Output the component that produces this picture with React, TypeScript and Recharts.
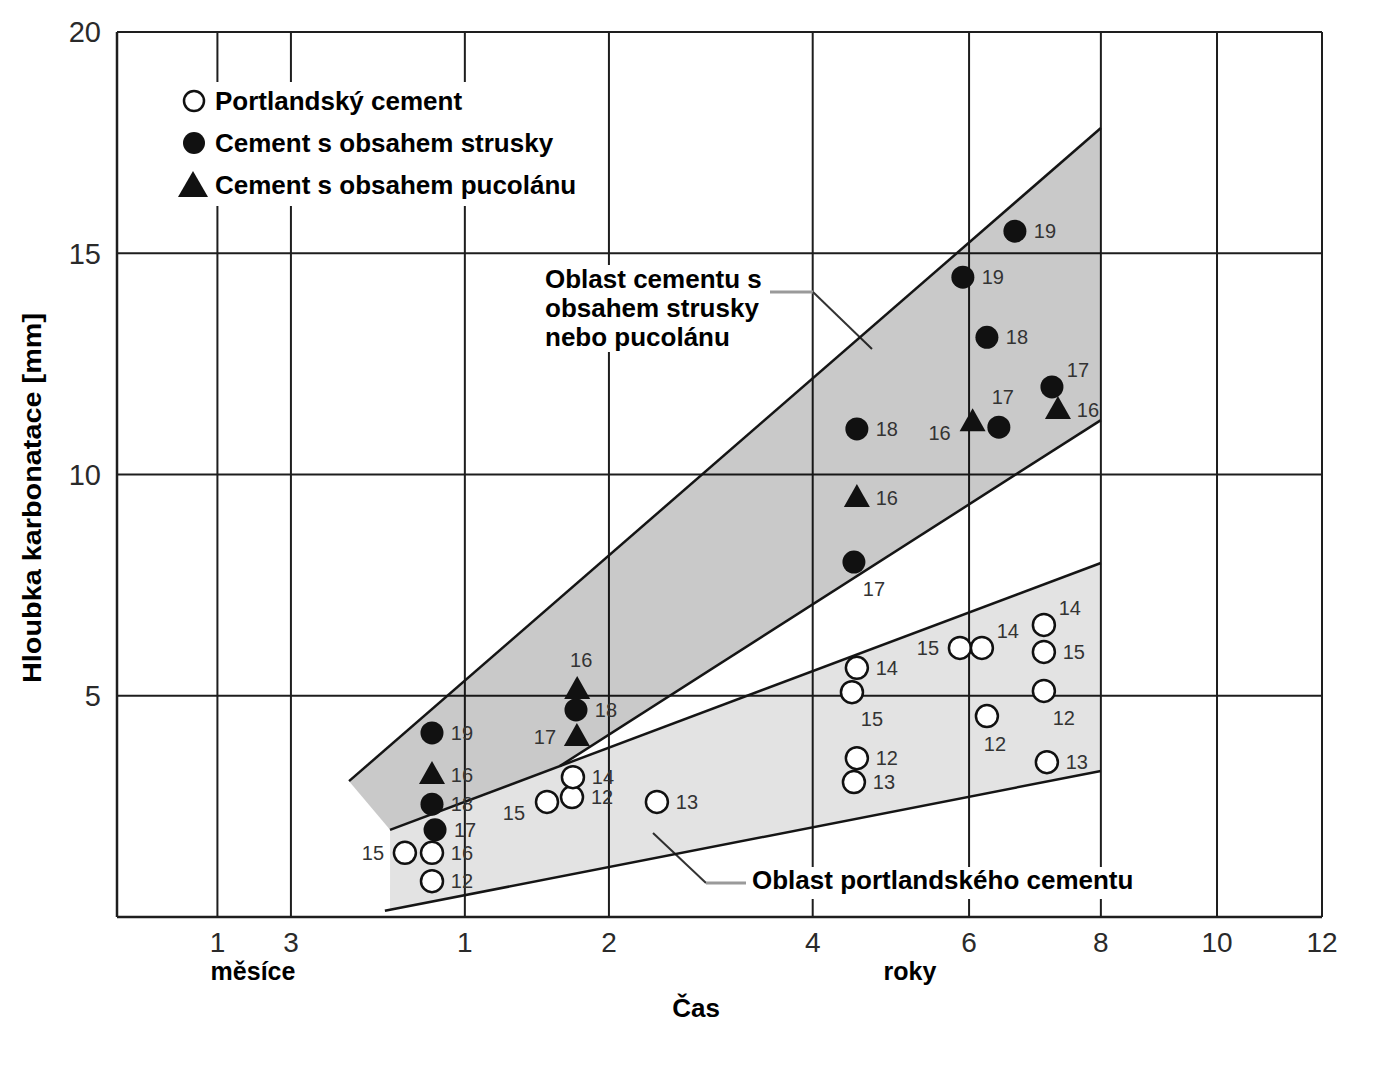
import React from "react";
import { ComposedChart, Scatter, XAxis, YAxis, CartesianGrid, Customized } from "recharts";

const FONT = "'Liberation Sans', Arial, Helvetica, sans-serif";

// time axis: 1 and 3 months, then years
const xTicks = [1 / 12, 3 / 12, 1, 2, 4, 6, 8, 10, 12];
const xTickLabels = ["1", "3", "1", "2", "4", "6", "8", "10", "12"];
const yTicks = [0, 5, 10, 15, 20];

// Portlandský cement
const portlandTime = [0.685, 0.82, 0.82, 1.528, 1.711, 1.718, 2.409, 4.524, 4.464, 4.524, 4.488, 5.872, 6.182, 6.254, 7.1, 7.1, 7.1, 7.146];
const portlandDepth = [1.45, 1.45, 0.81, 2.6, 2.71, 3.16, 2.6, 5.63, 5.08, 3.59, 3.05, 6.08, 6.08, 4.54, 6.6, 5.99, 5.11, 3.5];
const portlandTag = [15, 16, 12, 15, 12, 14, 13, 14, 15, 12, 13, 15, 14, 12, 14, 15, 12, 13];

// Cement s obsahem strusky
const slagTime = [0.82, 0.82, 0.836, 1.741, 4.524, 4.488, 5.913, 6.663, 6.254, 6.427, 7.224];
const slagDepth = [4.16, 2.55, 1.97, 4.68, 11.03, 8.02, 14.46, 15.5, 13.1, 11.07, 11.98];
const slagTag = [19, 18, 17, 18, 18, 17, 19, 19, 18, 17, 17];

// Cement s obsahem pucolánu
const pozzTime = [0.82, 1.75, 1.748, 4.524, 6.05, 7.317];
const pozzDepth = [3.21, 5.13, 4.07, 9.47, 11.18, 11.46];
const pozzTag = [16, 16, 17, 16, 16, 16];

// shaded regions (polygon corners) and their edges
const slagBandTime = [0.445, 8, 8, 1.62, 0.616];
const slagBandDepth = [3.07, 17.83, 11.23, 3.41, 1.97];
const portlandBandTime = [0.616, 8, 8, 0.616];
const portlandBandDepth = [1.97, 8.0, 3.3, 0.18];

const edgeSlagUpperT = [0.445, 8];
const edgeSlagUpperD = [3.07, 17.83];
const edgeSlagLowerT = [1.62, 8];
const edgeSlagLowerD = [3.41, 11.23];
const edgePortUpperT = [0.616, 8];
const edgePortUpperD = [1.97, 8.0];
const edgePortLowerT = [0.593, 8];
const edgePortLowerD = [0.14, 3.3];

// where each number label sits around its marker
const portlandSide = ["l", "r", "r", "dl", "r", "r", "r", "r", "dr", "r", "r", "l", "ur", "d", "ur", "r", "dr", "r"];
const slagSide = ["r", "r", "r", "r", "r", "dr", "r", "r", "r", "u", "ur"];
const pozzSide = ["r", "u", "l", "r", "dl", "r"];

const sideOffset: Record<string, [number, number]> = {
  r: [30, 0],
  l: [-32, 0],
  u: [4, -30],
  ur: [26, -17],
  d: [8, 28],
  dr: [20, 27],
  dl: [-33, 11],
};

const zip = (ts: number[], ds: number[], tags?: number[], sides?: string[]) =>
  ts.map((t, i) => ({ t, depth: ds[i], tag: tags ? tags[i] : undefined, side: sides ? sides[i] : undefined }));

const portlandData = zip(portlandTime, portlandDepth, portlandTag, portlandSide);
const slagData = zip(slagTime, slagDepth, slagTag, slagSide);
const pozzData = zip(pozzTime, pozzDepth, pozzTag, pozzSide);

const PointLabel = ({ cx, cy, payload }: any) => {
  const [dx, dy] = sideOffset[payload.side] || [30, 0];
  return (
    <text x={cx + dx} y={cy + dy} dy={7} textAnchor="middle" fontSize={20} fill="#333" fontFamily={FONT}>
      {payload.tag}
    </text>
  );
};

const OpenCircle = (p: any) => (
  <g>
    <circle cx={p.cx} cy={p.cy} r={11} fill="#fff" stroke="#111" strokeWidth={2.5} />
    <PointLabel {...p} />
  </g>
);

const FilledCircle = (p: any) => (
  <g>
    <circle cx={p.cx} cy={p.cy} r={11.5} fill="#111" />
    <PointLabel {...p} />
  </g>
);

const triPath = (cx: number, cy: number) => `M${cx},${cy - 14} L${cx + 13},${cy + 9} L${cx - 13},${cy + 9} Z`;

const Triangle = (p: any) => (
  <g>
    <path d={triPath(p.cx, p.cy)} fill="#111" />
    <PointLabel {...p} />
  </g>
);

const noMarker = () => <g />;

const polygonLine = (opacity: number) => (p: any) => (
  <polygon
    points={(p.points || []).map((q: any) => `${q.x},${q.y}`).join(" ")}
    fill="#000"
    fillOpacity={opacity}
    stroke="none"
  />
);

const edgeLine = { stroke: "#151515", strokeWidth: 2.5 };

const Overlay = () => (
  <g transform="translate(-8,-8)" fontFamily={FONT} fill="#000">
    {/* legend */}
    <rect x={176} y={82} width={414} height={124} fill="#fff" />
    <circle cx={194} cy={101} r={10} fill="#fff" stroke="#111" strokeWidth={2.5} />
    <text x={215} y={110} fontSize={26} fontWeight="bold">Portlandský cement</text>
    <circle cx={194} cy={143} r={11} fill="#111" />
    <text x={215} y={152} fontSize={26} fontWeight="bold">Cement s obsahem strusky</text>
    <path d="M193,171 L208,197 L178,197 Z" fill="#111" />
    <text x={215} y={194} fontSize={26} fontWeight="bold">Cement s obsahem pucolánu</text>

    {/* region notes */}
    <rect x={540} y={265} width={228} height={87} fill="#fff" />
    <text x={545} y={288} fontSize={26} fontWeight="bold">Oblast cementu s</text>
    <text x={545} y={317} fontSize={26} fontWeight="bold">obsahem strusky</text>
    <text x={545} y={346} fontSize={26} fontWeight="bold">nebo pucolánu</text>
    <line x1={770} y1={292} x2={813} y2={292} stroke="#9a9a9a" strokeWidth={3} />
    <line x1={813} y1={292} x2={872} y2={349} stroke="#333" strokeWidth={2} />

    <rect x={748} y={867} width={395} height={32} fill="#fff" />
    <text x={752} y={889} fontSize={26} fontWeight="bold">Oblast portlandského cementu</text>
    <line x1={653} y1={833} x2={706} y2={883} stroke="#333" strokeWidth={2} />
    <line x1={706} y1={883} x2={746} y2={883} stroke="#9a9a9a" strokeWidth={3} />

    {/* axis titles */}
    <text
      transform="translate(41,498) rotate(-90)"
      textAnchor="middle"
      fontSize={26}
      fontWeight="bold"
      textLength={370}
      lengthAdjust="spacingAndGlyphs"
    >
      Hloubka karbonatace [mm]
    </text>
    <text x={696} y={1017} textAnchor="middle" fontSize={26} fontWeight="bold">Čas</text>
    <text x={253} y={980} textAnchor="middle" fontSize={25} fontWeight="bold">měsíce</text>
    <text x={910} y={980} textAnchor="middle" fontSize={25} fontWeight="bold">roky</text>
  </g>
);

export default function App() {
  return (
    <div style={{ width: 1359, height: 1050, fontFamily: FONT, background: "#fff" }}>
      <ComposedChart width={1359} height={1050} margin={{ top: 24, right: 45, bottom: 101, left: 49 }}>
        <CartesianGrid stroke="#1e1e1e" strokeWidth={2} />
        <XAxis
          type="number"
          dataKey="t"
          scale="sqrt"
          domain={[0, 12]}
          ticks={xTicks}
          interval={0}
          allowDataOverflow
          tickFormatter={(v: number, i: number) => {
            const k = xTicks.indexOf(v);
            return xTickLabels[k >= 0 ? k : i];
          }}
          tickLine={false}
          tickSize={6}
          tickMargin={9}
          height={40}
          axisLine={{ stroke: "#1e1e1e", strokeWidth: 2.5 }}
          tick={{ fontSize: 28, fill: "#2a2a2a" }}
        />
        <YAxis
          type="number"
          dataKey="depth"
          domain={[0, 20]}
          ticks={yTicks}
          interval={0}
          allowDataOverflow
          tickFormatter={(v: number) => (v === 0 ? "" : String(v))}
          tickLine={false}
          tickSize={6}
          tickMargin={10}
          width={60}
          axisLine={{ stroke: "#1e1e1e", strokeWidth: 2.5 }}
          tick={{ fontSize: 29, fill: "#2a2a2a" }}
        />

        <Scatter data={zip(portlandBandTime, portlandBandDepth)} shape={noMarker} line={polygonLine(0.11)} isAnimationActive={false} />
        <Scatter data={zip(slagBandTime, slagBandDepth)} shape={noMarker} line={polygonLine(0.21)} isAnimationActive={false} />

        <Scatter data={zip(edgeSlagUpperT, edgeSlagUpperD)} shape={noMarker} line={edgeLine} isAnimationActive={false} />
        <Scatter data={zip(edgeSlagLowerT, edgeSlagLowerD)} shape={noMarker} line={edgeLine} isAnimationActive={false} />
        <Scatter data={zip(edgePortUpperT, edgePortUpperD)} shape={noMarker} line={edgeLine} isAnimationActive={false} />
        <Scatter data={zip(edgePortLowerT, edgePortLowerD)} shape={noMarker} line={edgeLine} isAnimationActive={false} />

        <Scatter name="Portlandský cement" data={portlandData} shape={OpenCircle} isAnimationActive={false} />
        <Scatter name="Cement s obsahem strusky" data={slagData} shape={FilledCircle} isAnimationActive={false} />
        <Scatter name="Cement s obsahem pucolánu" data={pozzData} shape={Triangle} isAnimationActive={false} />

        <Customized component={<Overlay />} />
      </ComposedChart>
    </div>
  );
}
